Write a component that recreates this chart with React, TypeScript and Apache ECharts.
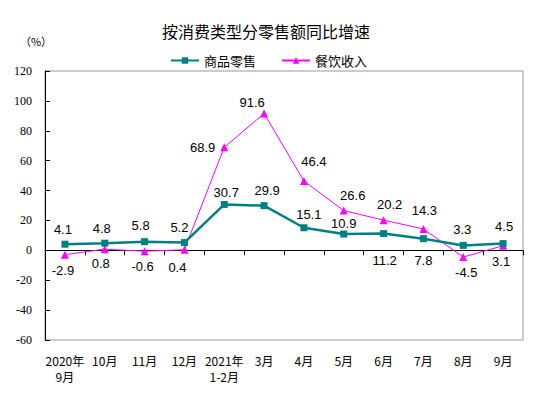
import React, { useEffect, useRef } from "react";
import * as echarts from "echarts";

const categories = [
  "2020年\n9月", "10月", "11月", "12月", "2021年\n1-2月", "3月",
  "4月", "5月", "6月", "7月", "8月", "9月",
];
const retailValues = [4.1, 4.8, 5.8, 5.2, 30.7, 29.9, 15.1, 10.9, 11.2, 7.8, 3.3, 4.5];
const cateringValues = [-2.9, 0.8, -0.6, 0.4, 68.9, 91.6, 46.4, 26.6, 20.2, 14.3, -4.5, 3.1];
const yTicks = { min: -60, max: 120, interval: 20 };

// label placement: [position, dx, dy]
const retailLabelLayout: [string, number, number][] = [
  ["top", -2, 0], ["top", -3, 0], ["top", -4, -1], ["top", -5, 0],
  ["top", 2, 3], ["top", 3, 0], ["top", 5, 2], ["top", 0, 4],
  ["bottom", 1, 12], ["bottom", 0, 7], ["top", -1, -1], ["top", 1, -2],
];
const cateringLabelLayout: [string, number, number][] = [
  ["bottom", -2, 0], ["bottom", -4, -1], ["bottom", -2, 0], ["bottom", -7, 2],
  ["left", 0, 0], ["top", -12, 5], ["top", 10, -4], ["top", 9, 0],
  ["top", 6, 0], ["top", 1, -3], ["bottom", 3, 0], ["bottom", -2, 0],
];

const labelFont = { fontSize: 13, fontFamily: "Liberation Sans, Arial, sans-serif", color: "#000" };

function buildData(values: number[], layout: [string, number, number][]) {
  return values.map((v, i) => ({
    value: v,
    label: { position: layout[i][0], offset: [layout[i][1], layout[i][2]] },
  }));
}

export default function App() {
  const ref = useRef<HTMLDivElement>(null);
  useEffect(() => {
    if (!ref.current) return;
    const chart = echarts.init(ref.current, null, { renderer: "svg" });
    chart.setOption({
      animation: false,
      backgroundColor: "#fff",
      graphic: [
        {
          type: "text", x: 266, y: 31,
          style: {
            text: "按消费类型分零售额同比增速", align: "center", verticalAlign: "middle",
            fontSize: 16, fontFamily: "Noto Sans CJK SC, sans-serif", fill: "#000",
          },
        },
        {
          type: "text", x: 36, y: 41,
          style: {
            text: "（%）", align: "center", verticalAlign: "middle",
            fontSize: 11, fontFamily: "Noto Sans CJK SC, sans-serif", fill: "#000",
          },
        },
      ],
      legend: {
        left: 165, top: 49, itemWidth: 28, itemHeight: 8, itemGap: 25,
        textStyle: { fontSize: 13, fontFamily: "Noto Sans CJK SC, sans-serif", color: "#000" },
        data: ["商品零售", "餐饮收入"],
      },
      grid: {
        left: 45, right: 21, top: 71, bottom: 56,
        show: true, borderColor: "#999", borderWidth: 1, containLabel: false,
      },
      xAxis: [
        {
          type: "category", data: categories, position: "bottom", boundaryGap: true,
          axisLine: { show: false, onZero: false },
          axisTick: { show: false },
          axisLabel: {
            margin: 12, fontSize: 12, lineHeight: 16, color: "#000",
            fontFamily: "SimSun, Noto Sans CJK SC, sans-serif", interval: 0,
          },
        },
        {
          type: "category", data: categories, position: "top", boundaryGap: true,
          axisLine: { show: true, onZero: true, lineStyle: { color: "#000", width: 1 } },
          axisTick: { show: true, inside: true, length: 5, lineStyle: { color: "#000" }, interval: 0 },
          axisLabel: { show: false },
        },
      ],
      yAxis: {
        type: "value", min: yTicks.min, max: yTicks.max, interval: yTicks.interval,
        axisLine: { show: true, lineStyle: { color: "#000", width: 1 } },
        axisTick: { show: true, inside: true, length: 5, lineStyle: { color: "#000" } },
        splitLine: { show: false },
        axisLabel: {
          margin: 13, fontSize: 12, color: "#000",
          fontFamily: "Liberation Serif, Times New Roman, serif",
        },
      },
      series: [
        {
          name: "商品零售", type: "line", xAxisIndex: 0,
          data: buildData(retailValues, retailLabelLayout),
          symbol: "rect", symbolSize: 7,
          lineStyle: { color: "#008080", width: 2.5 },
          itemStyle: { color: "#008080" },
          label: { show: true, ...labelFont, distance: 5 },
          z: 3,
        },
        {
          name: "餐饮收入", type: "line", xAxisIndex: 0,
          data: buildData(cateringValues, cateringLabelLayout),
          symbol: "triangle", symbolSize: 8,
          lineStyle: { color: "#FF00FF", width: 1 },
          itemStyle: { color: "#FF00FF" },
          label: { show: true, ...labelFont, distance: 5 },
          z: 2,
        },
      ],
    });
    return () => chart.dispose();
  }, []);
  return <div ref={ref} style={{ width: 544, height: 396, margin: -8 }} />;
}
